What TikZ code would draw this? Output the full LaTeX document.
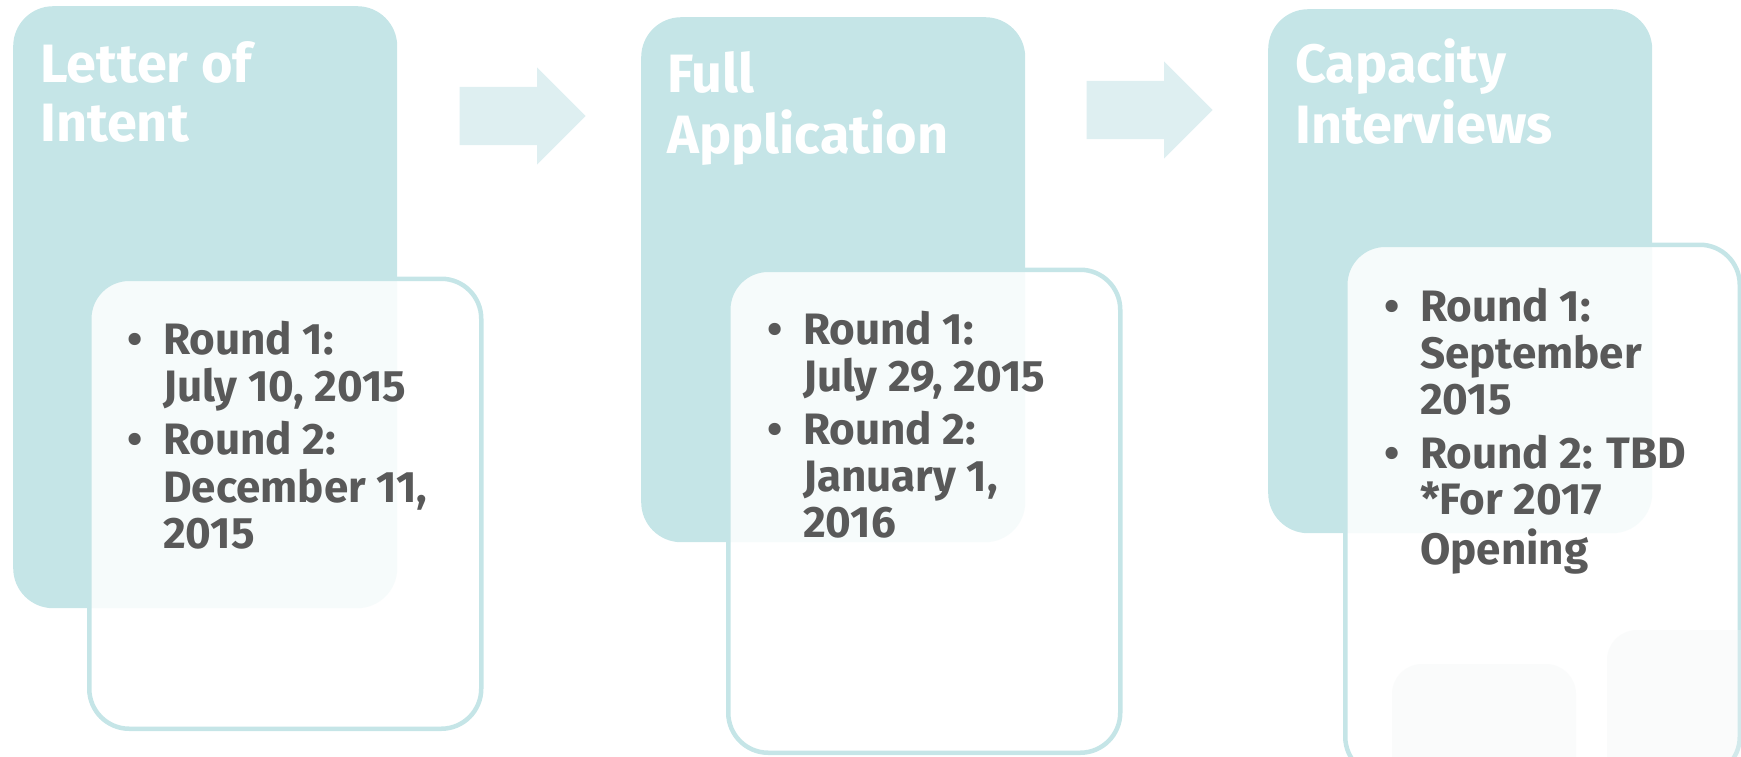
\documentclass[tikz,border=0pt]{standalone}
\usepackage{fontspec}
\setmainfont{Fira Sans}
\usetikzlibrary{
    shapes.arrows,
}
\definecolor{StageTeal}{HTML}{C5E5E7}
\definecolor{FlowTeal}{HTML}{DEEFF1}
\definecolor{DateGray}{HTML}{595959}
\definecolor{Faint}{HTML}{F1F5F5}
\newcommand{\titlefont}{\fontsize{54}{59}\selectfont\bfseries}
\newcommand{\datefont}{\fontsize{44}{46.5}\selectfont\bfseries}
\newcommand{\rnd}{\llap{\makebox[0pt]{\textbullet}\hspace{28pt}}}
\tikzstyle{stage}=[fill=StageTeal,rounded corners=40pt,inner sep=0pt,minimum width=384pt,anchor=north west]
\tikzstyle{datebox}=[draw=StageTeal,line width=4.5pt,fill=white,fill opacity=.86,rounded corners=40pt,inner sep=0pt,anchor=north west]
\tikzstyle{stagetitle}=[text=white,font=\titlefont,inner sep=0pt,anchor=base west]
\tikzstyle{dates}=[text=DateGray,font=\datefont,inner sep=0pt,anchor=base west]
\tikzstyle{flow}=[single arrow,fill=FlowTeal,single arrow head extend=19.5pt,minimum height=126pt,inner sep=0pt,anchor=tip]
\tikzstyle{faint}=[fill=Faint,fill opacity=.3,rounded corners=30pt]

\begin{document}
\begin{tikzpicture}[x=1pt,y=-1pt]
    \useasboundingbox (0,0) rectangle (1741,756);
    \clip (0,0) rectangle (1741,756);

    % Stages
    \node[stage,minimum height=602pt] (Letter) at (13,6) {};
    \node[stage,minimum height=525pt] (Application) at (641,17) {};
    \node[stage,minimum height=524pt] (Interviews) at (1268,9) {};

    \node[flow] (arrow1) at (586,116) {\rule{0pt}{58pt}};
    \node[flow] (arrow2) at (1213,110) {\rule{0pt}{58pt}};

    % Date boxes
    \node[datebox,minimum width=392pt,minimum height=450pt] (Letter dates) at (87,276.5) {};
    \node[datebox,minimum width=392pt,minimum height=483pt] (Application dates) at (726,267.5) {};
    \node[datebox,minimum width=394.5pt,minimum height=532pt] (Interviews dates) at (1343,242.5) {};
    \fill[faint] (1392,664) rectangle (1576,790);
    \fill[faint] (1607,630) rectangle (1790,790);

    % Titles
    \node[stagetitle] (Letter title) at (40,82) {\begin{tabular}[t]{@{}l@{}}Letter of\\Intent\end{tabular}};
    \node[stagetitle] (Application title) at (667,92) {\begin{tabular}[t]{@{}l@{}}Full\\Application\end{tabular}};
    \node[stagetitle] (Interviews title) at (1295,82) {\begin{tabular}[t]{@{}l@{}}Capacity\\Interviews\end{tabular}};

    % Rounds
    \node[dates] (Letter text) at (163,354) {\begin{tabular}[t]{@{}l@{}}
        \rnd Round 1:\\ July 10, 2015\\[6pt]
        \rnd Round 2:\\ December 11,\\ 2015
    \end{tabular}};
    \node[dates] (Application text) at (803,344) {\begin{tabular}[t]{@{}l@{}}
        \rnd Round 1:\\ July 29, 2015\\[6pt]
        \rnd Round 2:\\ January 1,\\ 2016
    \end{tabular}};
    \node[dates] (Interviews text) at (1420,321) {\begin{tabular}[t]{@{}l@{}}
        \rnd Round 1:\\ September\\ 2015\\[6pt]
        \rnd Round 2: TBD\\ {*}For 2017\\ Opening
    \end{tabular}};
\end{tikzpicture}
\end{document}
